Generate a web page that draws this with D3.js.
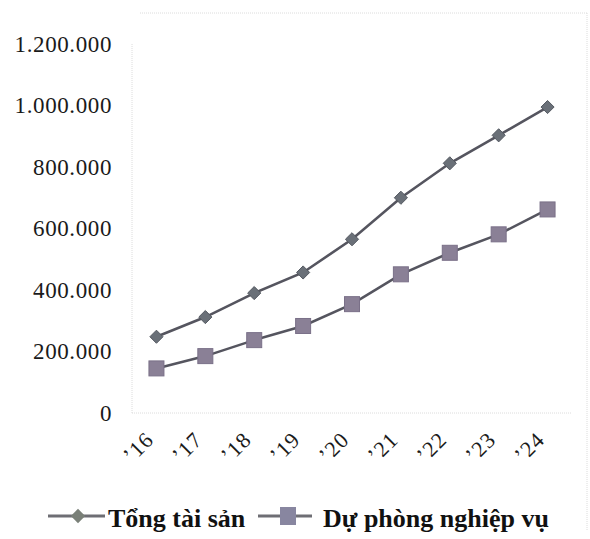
<!DOCTYPE html>
<html>
<head>
<meta charset="utf-8">
<script src="https://cdn.jsdelivr.net/npm/d3@7/dist/d3.min.js"></script>
<style>
  html, body { margin: 0; padding: 0; background: #fff; }
  svg { display: block; }
</style>
</head>
<body>
<svg id="chart" width="590" height="539"></svg>
<script>
// Years and the two series (đơn vị: tỷ đồng)
const years = ["’16", "’17", "’18", "’19", "’20", "’21", "’22", "’23", "’24"];
const tongTaiSan = [248000, 312000, 390000, 457000, 565000, 700000, 812000, 903000, 995000];
const duPhong = [145000, 185000, 237000, 283000, 354000, 451000, 521000, 581000, 662000];
const yTicks = [0, 200000, 400000, 600000, 800000, 1000000, 1200000];
const seriesNames = ["Tổng tài sản", "Dự phòng nghiệp vụ"];

const svg = d3.select("#chart");
const plot = { left: 132, right: 572, top: 44, bottom: 413 };
const serif = "'Liberation Serif', 'Times New Roman', serif";

const x = d3.scalePoint().domain(years).range([plot.left, plot.right]).padding(0.5);
const y = d3.scaleLinear().domain([0, 1200000]).range([plot.bottom, plot.top]);

// thousands separated by dots
const fmt = v => d3.format(",")(v).replace(/,/g, ".");

// faint outer frame and plot-area frame (dotted)
const frame = svg.append("g").attr("fill", "none").attr("stroke", "#dcdcdc")
  .attr("stroke-width", 1).attr("stroke-dasharray", "1,1");
frame.append("line").attr("x1", 140).attr("x2", 587).attr("y1", 13).attr("y2", 13);
frame.append("line").attr("x1", 587).attr("x2", 587).attr("y1", 13).attr("y2", 530);
frame.append("line").attr("x1", plot.left).attr("x2", plot.left).attr("y1", plot.top).attr("y2", plot.bottom);
frame.append("line").attr("x1", plot.left).attr("x2", plot.right).attr("y1", plot.bottom).attr("y2", plot.bottom);

// y axis labels
const yAxis = svg.append("g")
  .attr("transform", `translate(${plot.left - 20},0)`)
  .call(d3.axisLeft(y).tickValues(yTicks).tickFormat(fmt).tickSize(0).tickPadding(0));
yAxis.select(".domain").remove();
yAxis.selectAll("text")
  .style("font-family", serif).style("font-size", "23px").attr("fill", "#1a1a1a")
  .attr("letter-spacing", 0.6);

// x axis labels, rotated
const xAxis = svg.append("g")
  .attr("transform", `translate(0,${plot.bottom})`)
  .call(d3.axisBottom(x).tickSize(0).tickPadding(0));
xAxis.select(".domain").remove();
xAxis.selectAll("text")
  .style("font-family", serif).style("font-size", "22px").attr("fill", "#1a1a1a")
  .attr("text-anchor", "end").attr("dy", 0).attr("letter-spacing", 1)
  .attr("transform", "translate(-2,28) rotate(-45)");

const line = d3.line().x((d, i) => x(years[i])).y(d => y(d));
const lineColor = "#55555f";

// Dự phòng nghiệp vụ: line with square markers
svg.append("path").datum(duPhong)
  .attr("d", line).attr("fill", "none")
  .attr("stroke", lineColor).attr("stroke-width", 2.6);
svg.append("g").selectAll("rect").data(duPhong).join("rect")
  .attr("x", (d, i) => x(years[i]) - 7.5).attr("y", d => y(d) - 7.5)
  .attr("width", 15).attr("height", 15)
  .attr("fill", "#8a8096").attr("stroke", "#7a7088").attr("stroke-width", 1);

// Tổng tài sản: line with diamond markers
svg.append("path").datum(tongTaiSan)
  .attr("d", line).attr("fill", "none")
  .attr("stroke", lineColor).attr("stroke-width", 2.6);
const diamond = d3.symbol().type(d3.symbolDiamond2).size(110);
svg.append("g").selectAll("path").data(tongTaiSan).join("path")
  .attr("d", diamond)
  .attr("transform", (d, i) => `translate(${x(years[i])},${y(d)})`)
  .attr("fill", "#6a7078").attr("stroke", "#555a62").attr("stroke-width", 1);

// legend
const legend = svg.append("g").style("font-family", serif).attr("font-weight", "bold")
  .style("font-size", "26px").attr("fill", "#111");
const ly = 516;
legend.append("line").attr("x1", 48).attr("x2", 105).attr("y1", ly).attr("y2", ly)
  .attr("stroke", "#6e6e74").attr("stroke-width", 3);
legend.append("path").attr("d", d3.symbol().type(d3.symbolDiamond2).size(130))
  .attr("transform", `translate(78,${ly})`).attr("fill", "#7a8078");
legend.append("text").attr("x", 108).attr("y", 527).text(seriesNames[0]);
legend.append("line").attr("x1", 258).attr("x2", 312).attr("y1", ly).attr("y2", ly)
  .attr("stroke", "#6e6e74").attr("stroke-width", 3);
legend.append("rect").attr("x", 280).attr("y", ly - 9).attr("width", 16).attr("height", 18)
  .attr("fill", "#8886a0");
legend.append("text").attr("x", 323).attr("y", 527).text(seriesNames[1]);
</script>
</body>
</html>
